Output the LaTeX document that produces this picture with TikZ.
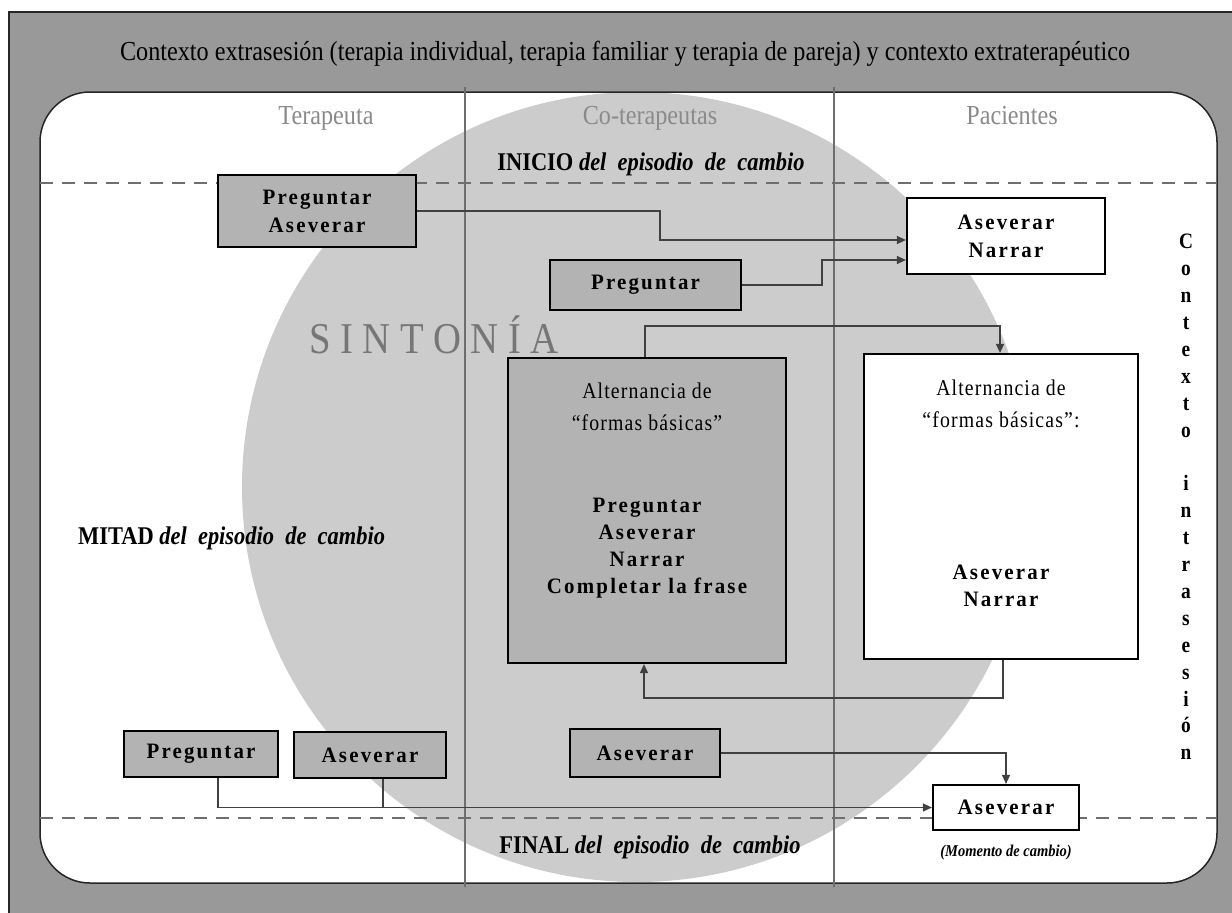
\documentclass[tikz,border=0pt]{standalone}
\usepackage{fontspec}
\setmainfont{Liberation Serif}[FakeStretch=0.88]
\newfontfamily\bsp{Liberation Serif}[FakeStretch=0.95, LetterSpace=10]
\newfontfamily\rsp{Liberation Serif}[FakeStretch=0.88, LetterSpace=5]
\newfontfamily\ssp{Liberation Serif}[FakeStretch=0.88, LetterSpace=22]
\usetikzlibrary{arrows.meta,calc}
\definecolor{outergray}{HTML}{999999}
\definecolor{circgray}{HTML}{CCCCCC}
\definecolor{boxgray}{HTML}{B3B3B3}
\definecolor{headgray}{HTML}{8A8A8A}
\definecolor{sintgray}{HTML}{767676}
\definecolor{linegray}{HTML}{6E6E6E}
\definecolor{arrowgray}{HTML}{404040}
\tikzset{
  box/.style={draw=black, line width=2.2pt, fill=boxgray, inner sep=0pt, align=center,
    font=\bsp\bfseries\fontsize{22}{28}\selectfont},
  wbox/.style={box, fill=white},
  plain/.style={inner sep=0pt, align=center},
  head/.style={plain, anchor=base, text=headgray, font=\fontsize{27.5}{30}\selectfont},
  phase/.style={plain, anchor=base, font=\fontsize{25.5}{28}\selectfont},
  vline/.style={draw=linegray, line width=1.8pt},
  dashline/.style={draw=linegray, line width=2.6pt, dash pattern=on 13pt off 9pt},
  arr/.style={draw=arrowgray, line width=1.3pt, -{Triangle[length=9pt,width=8pt]}},
  conn/.style={draw=arrowgray, line width=1.3pt},
}
\begin{document}
\begin{tikzpicture}[x=1pt,y=-1pt]
\useasboundingbox (0,0) rectangle (1232,913);
% outer context
\fill[outergray] (9,12) rectangle (1232,913);
\draw[line width=1.2pt, black!85] (9,913) -- (9,12) -- (1232,12);
% inner session area
\fill[white, rounded corners=50pt] (40,92) rectangle (1217,883);
\begin{scope}
  \clip[rounded corners=50pt] (40,92) rectangle (1217,883);
  \fill[circgray] (637,487) circle[radius=395pt];
\end{scope}
\draw[black!85, line width=1.5pt, rounded corners=50pt] (40,92) rectangle (1217,883);
% column separators
\draw[vline] (465,87) -- (465,887);
\draw[vline] (834,87) -- (834,887);
% phase separators
\draw[dashline] (40,183) -- (1217,183);
\draw[dashline] (40,818) -- (1217,818);
% texts
\node[plain, anchor=base, font=\fontsize{27.5}{30}\selectfont] (title) at (625,60)
  {Contexto extrasesión (terapia individual, terapia familiar y terapia de pareja) y contexto extraterapéutico};
\node[head] (hter) at (326,124) {Terapeuta};
\node[head] (hcot) at (650,124) {Co-terapeutas};
\node[head] (hpac) at (1012,124) {Pacientes};
\node[phase] (inicio) at (651,170) {\textbf{INICIO} \textbf{\textit{del\ \ episodio\ \ de\ \ cambio}}};
\node[phase, anchor=base west] (mitad) at (78,544) {\textbf{MITAD} \textbf{\textit{del\ \ episodio\ \ de\ \ cambio}}};
\node[phase] (final) at (650,853) {\textbf{FINAL} \textbf{\textit{del\ \ episodio\ \ de\ \ cambio}}};
\node[plain, text=sintgray, font=\ssp\fontsize{44}{48}\selectfont] (sint) at (434,335) {SINTONÍA};
\node[plain, font=\bfseries\fontsize{22}{26.9}\selectfont] (ctx) at (1186,497)
  {C\\o\\n\\t\\e\\x\\t\\o\\~\\i\\n\\t\\r\\a\\s\\e\\s\\i\\ó\\n};
% boxes
\node[box, minimum width=198pt, minimum height=72pt] (b1) at (317,211) {Preguntar\\Aseverar};
\node[box, minimum width=191pt, minimum height=50pt] (b2) at (645.5,285) {Preguntar};
\node[wbox, minimum width=198pt, minimum height=76pt] (b3) at (1006,236) {Aseverar\\Narrar};
\node[box, minimum width=278pt, minimum height=305pt] (b4) at (647,510.5) {};
\node[wbox, minimum width=274pt, minimum height=305pt] (b5) at (1001,506.5) {};
\node[box, minimum width=154pt, minimum height=46pt] (b6) at (201,754) {Preguntar};
\node[box, minimum width=152pt, minimum height=46pt] (b7) at (370,755) {Aseverar};
\node[box, minimum width=150pt, minimum height=48pt] (b8) at (645,753) {Aseverar};
\node[wbox, minimum width=146pt, minimum height=45pt] (b9) at (1006,807.5) {Aseverar};
% texts inside large boxes
\node[plain, font=\rsp\fontsize{22.5}{32}\selectfont] (b4a) at (647,407) {Alternancia de\\“formas básicas”};
\node[plain, font=\bsp\bfseries\fontsize{22}{27}\selectfont] (b4b) at (647,548) {Preguntar\\Aseverar\\Narrar\\Completar la frase};
\node[plain, font=\rsp\fontsize{22.5}{32}\selectfont] (b5a) at (1001,404) {Alternancia de\\“formas básicas”:};
\node[plain, font=\bsp\bfseries\fontsize{22}{27}\selectfont] (b5b) at (1001,586) {Aseverar\\Narrar};
\node[plain, font=\bfseries\itshape\fontsize{16.5}{19}\selectfont] (mom) at (1006,853) {(Momento de cambio)};
% connectors
\coordinate (k1) at (660,211);
\coordinate (k2) at (822,285);
\coordinate (k3) at (645,326);
\coordinate (k4) at (644,698);
\coordinate (j7) at ($(b7.south)+(13pt,0)$);
\draw[arr] (b1.east) -- (k1) |- ([yshift=-4pt]b3.west);
\draw[arr] (b2.east) -- (k2) |- ([yshift=-24pt]b3.west);
\draw[arr] (b4.north -| k3) -- (k3) -| ([xshift=-1pt]b5.north);
\draw[arr] ([xshift=2pt]b5.south) |- (k4) -- (b4.south -| k4);
\draw[arr] (b8.east) -| (b9.north);
\draw[arr] ([xshift=17pt]b6.south) |- (b9.west);
\draw[conn] (j7) -- (j7 |- b9.west);
\end{tikzpicture}
\end{document}
